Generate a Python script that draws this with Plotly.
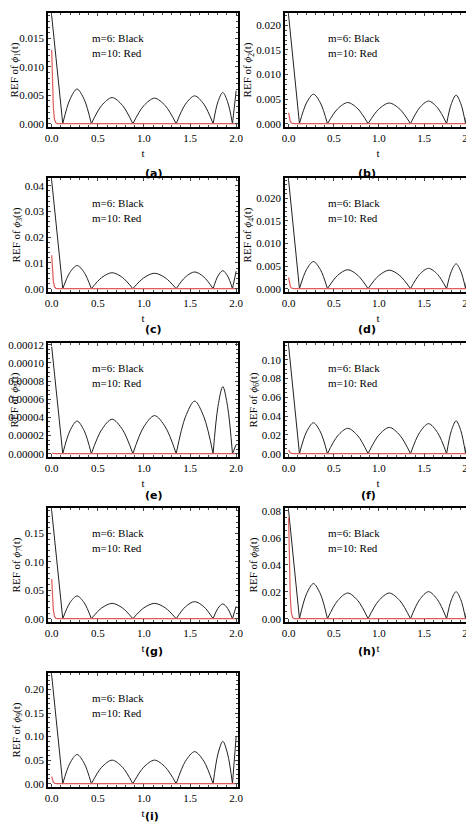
import plotly.graph_objects as go

# read-off values per panel
labels = ['(a)', '(b)', '(c)', '(d)', '(e)', '(f)', '(g)', '(h)', '(i)']
phi_index = [1, 2, 3, 4, 5, 6, 7, 8, 9]
start_vals = [0.019, 0.022, 0.042, 0.024, 0.000118, 0.115, 0.19, 0.08, 0.23]
peak_vals = [
    [0.0061, 0.0046, 0.0045, 0.0049, 0.0055],
    [0.0060, 0.0043, 0.0042, 0.0046, 0.0058],
    [0.0090, 0.0062, 0.0060, 0.0065, 0.0070],
    [0.0060, 0.0042, 0.0041, 0.0045, 0.0055],
    [0.000036, 0.000038, 0.000042, 0.000058, 0.000074],
    [0.033, 0.027, 0.028, 0.032, 0.035],
    [0.040, 0.027, 0.027, 0.030, 0.026],
    [0.026, 0.019, 0.019, 0.020, 0.020],
    [0.062, 0.050, 0.050, 0.068, 0.090],
]
end_vals = [0.0058, 0.0060, 0.0068, 0.0062, 0.00001, 0.036, 0.022, 0.019, 0.10]
red_start = [0.013, 0.0022, 0.013, 0.0025, 0.0000005, 0.004, 0.07, 0.075, 0.015]
y_max = [0.0195, 0.0225, 0.043, 0.0245, 0.000122, 0.118, 0.195, 0.082, 0.235]
y_dtick = [0.005, 0.005, 0.01, 0.005, 0.00002, 0.02, 0.05, 0.02, 0.05]
y_fmt = ['.3f', '.3f', '.2f', '.3f', '.5f', '.2f', '.2f', '.2f', '.2f']

zeros = [0.12, 0.43, 0.88, 1.35, 1.75, 1.96]
red_t = [0.0, 0.008, 0.018, 0.03, 0.045, 0.06, 2.0]
red_shape = [1.0, 0.55, 0.22, 0.06, 0.01, 0.0, 0.0]
arch_shape = [0.0, 0.7, 1.0, 0.7, 0.0]

W, H = 474, 833
fig = go.Figure()
font = dict(family='Liberation Serif', size=11, color='black')

for i in range(9):
    row, col = divmod(i, 2)
    n = '' if i == 0 else str(i + 1)
    x0 = (40 if col == 0 else 277) / W
    x1 = (230 if col == 0 else 463) / W
    top = 5 + 165 * row
    bot = top + 114
    # black curve built from read-off arches
    tx = [0.0, zeros[0], None]
    ty = [start_vals[i], 0.0, None]
    for k in range(5):
        a, b = zeros[k], zeros[k + 1]
        for j, s in enumerate(arch_shape):
            tx.append(a + (b - a) * j / 4)
            ty.append(peak_vals[i][k] * s)
        tx.append(None)
        ty.append(None)
    tx += [zeros[5], 2.0]
    ty += [0.0, end_vals[i]]
    fig.add_trace(go.Scatter(x=tx, y=ty, mode='lines', xaxis='x' + n, yaxis='y' + n,
                             line=dict(color='#222222', width=1, shape='spline', smoothing=0.9),
                             showlegend=False))
    fig.add_trace(go.Scatter(x=red_t, y=[red_start[i] * s for s in red_shape], mode='lines',
                             xaxis='x' + n, yaxis='y' + n,
                             line=dict(color='#e05a5a', width=1.2),
                             showlegend=False))
    common = dict(showgrid=False, zeroline=False, mirror='ticks', showline=True,
                  linecolor='black', linewidth=1.5, ticks='inside', ticklen=3,
                  tickfont=font, minor=dict(ticks='inside', ticklen=2), automargin=False)
    fig.layout['xaxis' + n] = dict(common, domain=[x0, x1], anchor='y' + n,
                                   range=[-0.04, 2.02], dtick=0.5, tickformat='.1f',
                                   title=dict(text='t', font=font, standoff=6))
    fig.layout['yaxis' + n] = dict(common, domain=[1 - bot / H, 1 - top / H], anchor='x' + n,
                                   range=[-y_max[i] * 0.03, y_max[i]], dtick=y_dtick[i],
                                   tickformat=y_fmt[i],
                                   title=dict(text='REF of <i>ϕ</i><sub>%d</sub>(t)' % phi_index[i],
                                              font=font, standoff=2))
    for txt, yy in [('m=6: Black', 0.85), ('m=10: Red', 0.65)]:
        fig.add_annotation(text=txt, xref='x%s domain' % n, yref='y%s domain' % n,
                           x=0.22, y=yy, xanchor='left', showarrow=False,
                           font=dict(family='Liberation Serif', size=11, color='black'))
    fig.add_annotation(text='<b>%s</b>' % labels[i], xref='paper', yref='paper',
                       x=(x0 + x1) / 2, y=1 - (bot + 38) / H, showarrow=False,
                       font=dict(family='DejaVu Sans', size=11, color='black'))

fig.update_layout(width=W, height=H, margin=dict(l=0, r=0, t=0, b=0),
                  plot_bgcolor='white', paper_bgcolor='white')
fig.write_html('out.html')
